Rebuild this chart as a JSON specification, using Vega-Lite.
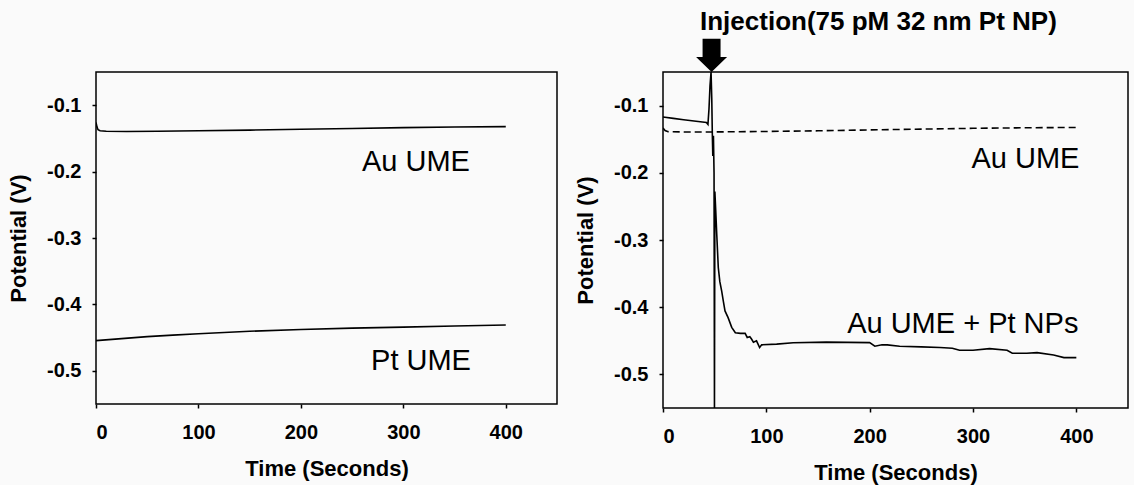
{
  "$schema": "https://vega.github.io/schema/vega-lite/v6.json",
  "background": "#fafafa",
  "padding": {"left": 6, "top": 7, "right": 5, "bottom": 2},
  "config": {
    "font": "Liberation Sans",
    "view": {"stroke": "black", "strokeWidth": 1.5},
    "axis": {
      "domain": false, "grid": false, "ticks": true,
      "tickColor": "black", "tickWidth": 1.5, "tickSize": 4,
      "labelFont": "Liberation Sans", "labelFontSize": 20, "labelFontWeight": "bold", "labelColor": "black",
      "titleFont": "Liberation Sans", "titleFontSize": 22, "titleFontWeight": "bold", "titleColor": "black",
      "titlePadding": 16
    },
    "axisX": {"labelPadding": 14},
    "axisY": {"labelPadding": 11},
    "concat": {"spacing": 15}
  },
  "hconcat": [
    {
      "width": 461,
      "height": 332,
      "layer": [
        {
          "data": {"values": [
            {"series": "Au UME", "t": 0, "v": -0.126},
            {"series": "Au UME", "t": 1, "v": -0.133},
            {"series": "Au UME", "t": 2, "v": -0.137},
            {"series": "Au UME", "t": 4, "v": -0.1385},
            {"series": "Au UME", "t": 10, "v": -0.1392},
            {"series": "Au UME", "t": 30, "v": -0.1395},
            {"series": "Au UME", "t": 60, "v": -0.1392},
            {"series": "Au UME", "t": 100, "v": -0.1385},
            {"series": "Au UME", "t": 150, "v": -0.1375},
            {"series": "Au UME", "t": 200, "v": -0.1362},
            {"series": "Au UME", "t": 250, "v": -0.135},
            {"series": "Au UME", "t": 300, "v": -0.1338},
            {"series": "Au UME", "t": 350, "v": -0.1328},
            {"series": "Au UME", "t": 400, "v": -0.1322},
            {"series": "Pt UME", "t": 0, "v": -0.4545},
            {"series": "Pt UME", "t": 25, "v": -0.4515},
            {"series": "Pt UME", "t": 50, "v": -0.4485},
            {"series": "Pt UME", "t": 75, "v": -0.4462},
            {"series": "Pt UME", "t": 100, "v": -0.4442},
            {"series": "Pt UME", "t": 150, "v": -0.4405},
            {"series": "Pt UME", "t": 200, "v": -0.4378},
            {"series": "Pt UME", "t": 250, "v": -0.4358},
            {"series": "Pt UME", "t": 300, "v": -0.4342},
            {"series": "Pt UME", "t": 350, "v": -0.4325},
            {"series": "Pt UME", "t": 400, "v": -0.431}
          ]},
          "mark": {"type": "line", "color": "black", "strokeWidth": 1.6, "clip": true},
          "encoding": {
            "x": {"field": "t", "type": "quantitative", "scale": {"domain": [0, 450], "nice": false},
                  "axis": {"values": [0, 100, 200, 300, 400], "title": "Time (Seconds)"}},
            "y": {"field": "v", "type": "quantitative", "scale": {"domain": [-0.55, -0.05], "nice": false, "zero": false},
                  "axis": {"values": [-0.5, -0.4, -0.3, -0.2, -0.1], "labelExpr": "'-' + format(-datum.value, '.1f')", "title": "Potential (V)"}},
            "detail": {"field": "series"}
          }
        },
        {
          "data": {"values": [
            {"label": "Au UME", "t": 365, "v": -0.1998},
            {"label": "Pt UME", "t": 366, "v": -0.4995}
          ]},
          "mark": {"type": "text", "align": "right", "baseline": "alphabetic", "fontSize": 29, "font": "Liberation Sans", "color": "black"},
          "encoding": {
            "x": {"field": "t", "type": "quantitative"},
            "y": {"field": "v", "type": "quantitative"},
            "text": {"field": "label"}
          }
        }
      ]
    },
    {
      "width": 465,
      "height": 336,
      "title": {"text": "Injection(75 pM 32 nm Pt NP)", "anchor": "start", "frame": "group", "dx": 37, "offset": -17,
                "baseline": "alphabetic", "fontSize": 26, "fontWeight": "bold", "font": "Liberation Sans", "color": "black"},
      "layer": [
        {
          "data": {"values": [
            {"series": "Au UME", "t": 0, "v": -0.1335},
            {"series": "Au UME", "t": 2, "v": -0.137},
            {"series": "Au UME", "t": 5, "v": -0.1388},
            {"series": "Au UME", "t": 20, "v": -0.1392},
            {"series": "Au UME", "t": 50, "v": -0.1392},
            {"series": "Au UME", "t": 100, "v": -0.1385},
            {"series": "Au UME", "t": 150, "v": -0.1375},
            {"series": "Au UME", "t": 200, "v": -0.1362},
            {"series": "Au UME", "t": 250, "v": -0.135},
            {"series": "Au UME", "t": 300, "v": -0.1338},
            {"series": "Au UME", "t": 350, "v": -0.133},
            {"series": "Au UME", "t": 400, "v": -0.1325}
          ]},
          "mark": {"type": "line", "color": "black", "strokeWidth": 1.6, "strokeDash": [7, 4], "clip": true},
          "encoding": {
            "x": {"field": "t", "type": "quantitative", "scale": {"domain": [0, 450], "nice": false},
                  "axis": {"values": [0, 100, 200, 300, 400], "title": "Time (Seconds)"}},
            "y": {"field": "v", "type": "quantitative", "scale": {"domain": [-0.55, -0.05], "nice": false, "zero": false},
                  "axis": {"values": [-0.5, -0.4, -0.3, -0.2, -0.1], "labelExpr": "'-' + format(-datum.value, '.1f')", "title": "Potential (V)"}}
          }
        },
        {
          "data": {"values": [
            {"t": 0, "v": -0.117},
            {"t": 10, "v": -0.119},
            {"t": 20, "v": -0.121},
            {"t": 30, "v": -0.123},
            {"t": 42, "v": -0.125},
            {"t": 43.5, "v": -0.128},
            {"t": 44.5, "v": -0.105},
            {"t": 45.5, "v": -0.07},
            {"t": 46.5, "v": -0.05},
            {"t": 47.2, "v": -0.09},
            {"t": 47.7, "v": -0.14},
            {"t": 48.2, "v": -0.175},
            {"t": 48.8, "v": -0.145},
            {"t": 49.4, "v": -0.2},
            {"t": 49.8, "v": -0.55},
            {"t": 50.2, "v": -0.228},
            {"t": 51, "v": -0.255},
            {"t": 52, "v": -0.291},
            {"t": 53.5, "v": -0.341},
            {"t": 55, "v": -0.362},
            {"t": 56.8, "v": -0.376},
            {"t": 58.5, "v": -0.392},
            {"t": 60, "v": -0.4055},
            {"t": 63, "v": -0.4155},
            {"t": 66.5, "v": -0.43},
            {"t": 70, "v": -0.438},
            {"t": 75, "v": -0.439},
            {"t": 79.5, "v": -0.4388},
            {"t": 81.5, "v": -0.445},
            {"t": 84, "v": -0.444},
            {"t": 85.5, "v": -0.447},
            {"t": 87.5, "v": -0.452},
            {"t": 90.5, "v": -0.45},
            {"t": 93.5, "v": -0.46},
            {"t": 95.5, "v": -0.456},
            {"t": 110, "v": -0.455},
            {"t": 126, "v": -0.453},
            {"t": 158, "v": -0.452},
            {"t": 200, "v": -0.4527},
            {"t": 205, "v": -0.458},
            {"t": 212, "v": -0.456},
            {"t": 217, "v": -0.456},
            {"t": 229, "v": -0.458},
            {"t": 250, "v": -0.459},
            {"t": 268, "v": -0.46},
            {"t": 280, "v": -0.461},
            {"t": 287, "v": -0.464},
            {"t": 300, "v": -0.464},
            {"t": 316, "v": -0.4617},
            {"t": 333, "v": -0.464},
            {"t": 338, "v": -0.4686},
            {"t": 352, "v": -0.4686},
            {"t": 362, "v": -0.4676},
            {"t": 378, "v": -0.471},
            {"t": 388, "v": -0.475},
            {"t": 400, "v": -0.475}
          ]},
          "mark": {"type": "line", "color": "black", "strokeWidth": 1.6, "clip": true},
          "encoding": {
            "x": {"field": "t", "type": "quantitative"},
            "y": {"field": "v", "type": "quantitative"}
          }
        },
        {
          "data": {"values": [
            {"label": "Au UME", "t": 403, "v": -0.1928},
            {"label": "Au UME + Pt NPs", "t": 402, "v": -0.4378}
          ]},
          "mark": {"type": "text", "align": "right", "baseline": "alphabetic", "fontSize": 29, "font": "Liberation Sans", "color": "black"},
          "encoding": {
            "x": {"field": "t", "type": "quantitative"},
            "y": {"field": "v", "type": "quantitative"},
            "text": {"field": "label"}
          }
        },
        {
          "data": {"values": [{"t": 47, "v": -0.05}]},
          "mark": {"type": "point", "shape": "M-0.58,-2.15L0.58,-2.15L0.58,-0.97L1,-0.97L0,0L-1,-0.97L-0.58,-0.97Z",
                   "filled": true, "color": "black", "opacity": 1, "size": 961, "strokeWidth": 0},
          "encoding": {
            "x": {"field": "t", "type": "quantitative"},
            "y": {"field": "v", "type": "quantitative"}
          }
        }
      ]
    }
  ]
}
